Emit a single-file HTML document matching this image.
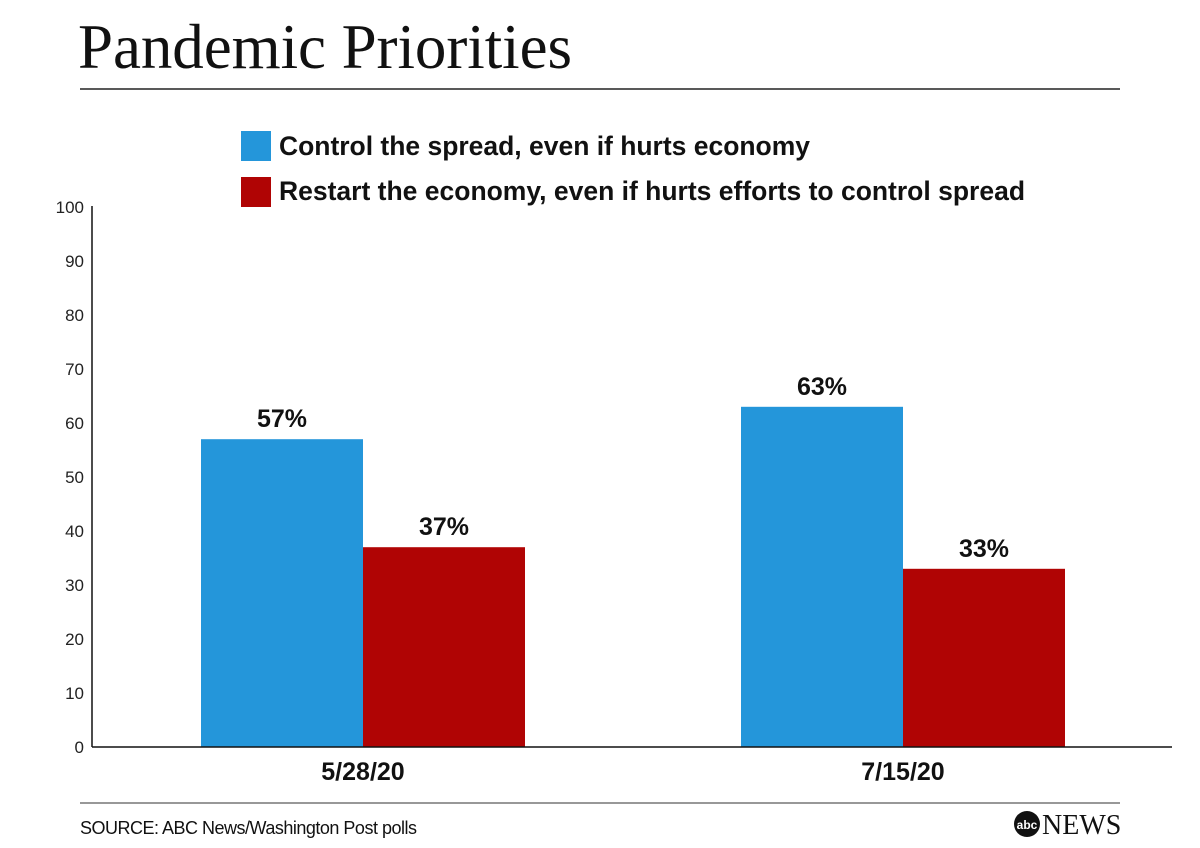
<!DOCTYPE html>
<html><head><meta charset="utf-8"><style>
body{margin:0;background:#fff;}
svg{display:block;}
</style></head><body>
<svg id="chart" width="1200" height="848" xmlns="http://www.w3.org/2000/svg">
<text x="78" y="68" font-family="Liberation Serif, serif" font-size="63" fill="#111" textLength="494">Pandemic Priorities</text>
<line x1="80" y1="89" x2="1120" y2="89" stroke="#222" stroke-width="1.5"/>
<rect x="241" y="131" width="30" height="30" fill="#2496da"/>
<text x="279" y="155" font-family="Liberation Sans, sans-serif" font-weight="bold" font-size="26.5" fill="#111" textLength="531">Control the spread, even if hurts economy</text>
<rect x="241" y="177" width="30" height="30" fill="#b00404"/>
<text x="279" y="200" font-family="Liberation Sans, sans-serif" font-weight="bold" font-size="26.5" fill="#111" textLength="746">Restart the economy, even if hurts efforts to control spread</text>
<g id="plot"></g>
<line x1="80" y1="803" x2="1120" y2="803" stroke="#777" stroke-width="1.5"/>
<text x="80" y="834" font-family="Liberation Sans, sans-serif" font-size="18" fill="#111" letter-spacing="-0.5">SOURCE: ABC News/Washington Post polls</text>
<circle cx="1027" cy="824" r="13" fill="#111"/>
<text x="1027" y="829" text-anchor="middle" font-family="Liberation Sans, sans-serif" font-weight="bold" font-size="12" fill="#fff">abc</text>
<text x="1042" y="834" font-family="Liberation Serif, serif" font-size="28" fill="#111">NEWS</text>
</svg>
<script>
const categories = ["5/28/20", "7/15/20"];
const controlValues = [57, 63];
const restartValues = [37, 33];
const yTicks = [0,10,20,30,40,50,60,70,80,90,100];
const NS="http://www.w3.org/2000/svg";
const g=document.getElementById('plot');
const y0=747, yTop=207, xL=92, xR=1172;
function y(v){return y0-(y0-yTop)*v/100;}
const groupW=(xR-xL)/categories.length, barW=162;
function gx(i){return xL+groupW*(i+0.5);}
function mk(tag,attrs){const e=document.createElementNS(NS,tag);for(const k in attrs)e.setAttribute(k,attrs[k]);g.appendChild(e);return e;}
yTicks.forEach(t=>{const e=mk('text',{x:84,y:y(t)+6,'text-anchor':'end','font-family':'Liberation Sans, sans-serif','font-size':17,fill:'#222'});e.textContent=t;

});
categories.forEach((c,i)=>{
 const cx=gx(i)+1;
 [[controlValues[i],'#2496da',cx-barW,'bar-control'],[restartValues[i],'#b00404',cx,'bar-restart']].forEach(([v,col,x,n])=>{
  const r=mk('rect',{x:x,y:y(v),width:barW,height:y0-y(v),fill:col});
  
  
  const t=mk('text',{x:x+barW/2,y:y(v)-12,'text-anchor':'middle','font-family':'Liberation Sans, sans-serif','font-weight':'bold','font-size':25,fill:'#111'});
  t.textContent=v+'%';
  
  
 });
 const l=mk('text',{x:cx,y:780,'text-anchor':'middle','font-family':'Liberation Sans, sans-serif','font-weight':'bold','font-size':25,fill:'#111'});
 l.textContent=c;
 
 
});
const ya=mk('line',{x1:xL,y1:206,x2:xL,y2:y0,stroke:'#111','stroke-width':1.5});


const xa=mk('line',{x1:xL,y1:y0,x2:xR,y2:y0,stroke:'#111','stroke-width':1.5});


</script>
</body></html>
